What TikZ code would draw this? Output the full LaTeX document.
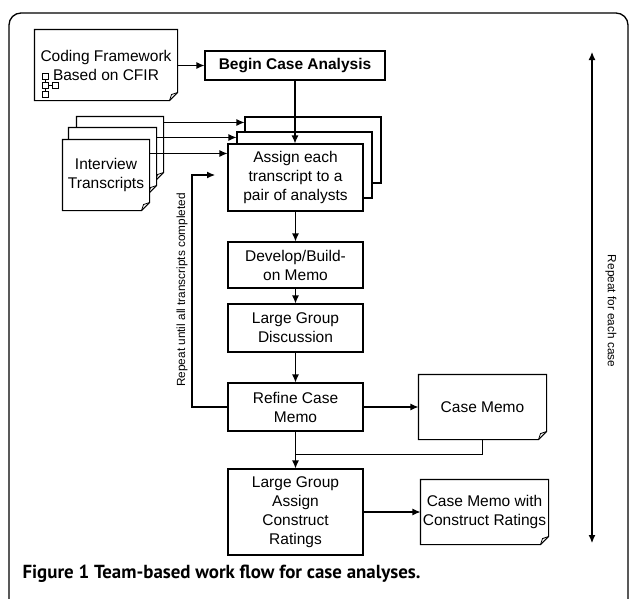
\documentclass[tikz,border=0pt]{standalone}
\usepackage{fontspec}
\setmainfont{Liberation Sans}
\newfontfamily\capfont{PT Sans}
\usetikzlibrary{positioning,backgrounds,arrows.meta}

\tikzset{
    stepbox/.style={draw,fill=white,inner sep=0pt,minimum width=135pt,align=center,font=\fontsize{15.5}{19}\selectfont},
    docbox/.style={inner sep=0pt,align=center,font=\fontsize{15.5}{19}\selectfont},
    flow/.style={-{Latex[length=8pt,width=7pt]}},
    sidetext/.style={inner sep=0pt,font=\fontsize{11.8}{14}\selectfont},
}

\begin{document}
\begin{tikzpicture}[x=1pt,y=-1pt,line width=1.1pt]
\useasboundingbox (0,0) rectangle (629,598);
\draw[line width=1.3pt,rounded corners=12pt] (9,13) rectangle (628,640);

% documents
\node[docbox,minimum width=142pt,minimum height=70pt] (nCoding) at (106,65) {Coding Framework\\Based on CFIR};
\node[docbox,minimum width=86pt,minimum height=63pt] (nTransC) at (120,148.5) {};
\node[docbox,minimum width=87pt,minimum height=65pt] (nTransB) at (112.5,160.5) {};
\node[docbox,minimum width=86pt,minimum height=70pt] (nTransA) at (106,175) {Interview\\Transcripts};
\node[docbox,minimum width=127pt,minimum height=64pt] (nCaseMemo) at (482.5,407) {Case Memo};
\node[docbox,minimum width=127pt,minimum height=64pt] (nRatedMemo) at (484.5,512) {Case Memo with\\Construct Ratings};

\begin{scope}[on background layer]
\foreach \v in {nCoding,nTransC,nTransB,nTransA,nCaseMemo,nRatedMemo}
{
    \draw[line width=1.1pt,fill=white] (\v.north west) -- (\v.north east) -- ([yshift=8pt]\v.south east) -- ([xshift=-8pt]\v.south east) -- (\v.south west) -- cycle;
    \draw[line width=0.8pt] ([xshift=-8pt]\v.south east) -- ([xshift=-6pt,yshift=6pt]\v.south east) -- ([yshift=8pt]\v.south east);
};
\end{scope}

% little tree in the framework
\foreach \v/\u in {42/73,42/82,42/91,52/82}
{
    \draw[line width=0.8pt] (\v,\u) rectangle ({\v+6},{\u+6});
};
\draw[line width=0.8pt] (45,79) -- (45,82) (45,88) -- (45,91) (48,85) -- (52,85);

% steps
\node[stepbox,minimum width=180pt,minimum height=29pt] (nBegin) at (295,65.5) {\bfseries Begin Case Analysis};
\node[stepbox,minimum width=136pt,minimum height=66pt] (nAssignC) at (313,150) {};
\node[stepbox,minimum height=66pt] (nAssignB) at (304.5,165) {};
\node[stepbox,minimum height=67pt] (nAssign) at (295.5,177.5) {Assign each\\transcript to a\\pair of analysts};
\node[stepbox,minimum height=46pt] (nDevelop) at (295.5,265) {Develop/Build-\\on Memo};
\node[stepbox,minimum height=48pt] (nDiscuss) at (295.5,328) {Large Group\\Discussion};
\node[stepbox,minimum height=48pt] (nRefine) at (295.5,407) {Refine Case\\Memo};
\node[stepbox,minimum height=86pt] (nRatings) at (295.5,512) {Large Group\\Assign\\Construct\\Ratings};

% connectors
\draw[flow] (nCoding.east |- nBegin.west) -- (nBegin.west);
\foreach \v/\u/\t in {nTransC/nAssignC/6,nTransB/nAssignB/6,nTransA/nAssign/10}
{
    \coordinate (cEndPt) at ([yshift=-\t pt]\u.north west);
    \draw[flow] (\v.east |- cEndPt) -- (cEndPt);
};
\draw[flow] (nBegin.south) -- (nBegin.south |- nAssign.north);
\foreach \v/\u in {nAssign/nDevelop,nDevelop/nDiscuss,nDiscuss/nRefine,nRefine/nRatings}
{
    \draw[flow] (\v) -- (\u);
};
\draw[flow] (nRefine) -- (nCaseMemo);
\draw[flow] (nRatings.east |- nRatedMemo.west) -- (nRatedMemo.west);
\coordinate (cMergePt) at ([yshift=-15pt]nCaseMemo.south);
\draw (nCaseMemo.south) -- (cMergePt) -- (cMergePt -| nRatings.north);

% repeat loops
\coordinate (cLoopPt) at (192,175);
\coordinate (cLoopEndPt) at (215,175);
\draw[flow] (nRefine.west) -| (cLoopPt) -- (cLoopEndPt);
\node[sidetext,rotate=90] (nLoopText) at (182,290) {Repeat until all transcripts completed};

\coordinate (cTopPt) at (592,52);
\coordinate (cBotPt) at (592,543);
\draw[{Latex[length=8pt,width=7pt]}-{Latex[length=8pt,width=7pt]}] (cTopPt) -- (cBotPt);
\node[sidetext,rotate=-90] (nCaseText) at (611,311) {Repeat for each case};

\node[anchor=base west,inner sep=0pt,font=\capfont\bfseries\fontsize{18.9}{22}\selectfont] (nCaption) at (22,578) {Figure 1 Team-based work flow for case analyses.};
\end{tikzpicture}
\end{document}
